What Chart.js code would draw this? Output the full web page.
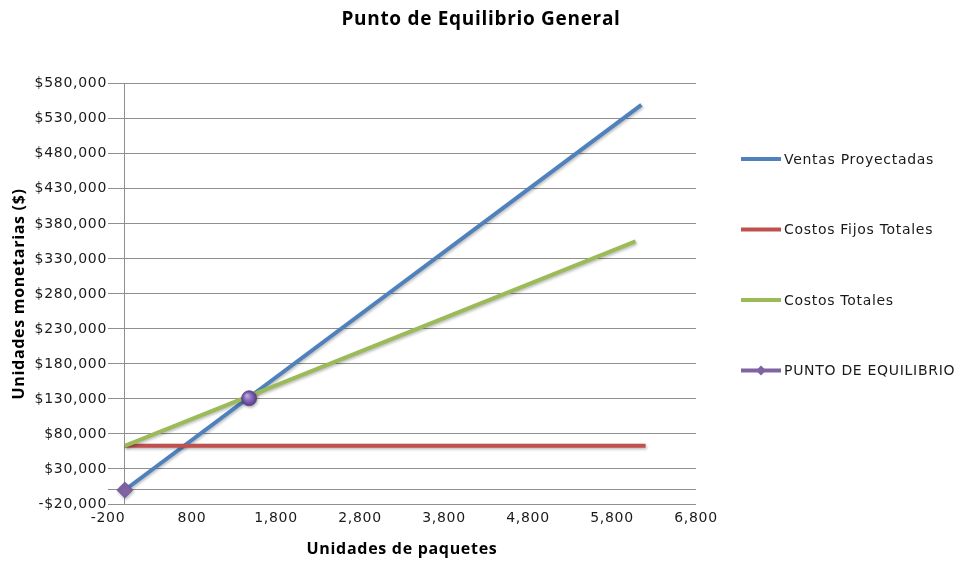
<!DOCTYPE html>
<html>
<head>
<meta charset="utf-8">
<script src="https://cdn.jsdelivr.net/npm/chart.js@4/dist/chart.umd.min.js"></script>
<style>
  html, body { margin: 0; padding: 0; background: #ffffff; }
  canvas { display: block; }
</style>
</head>
<body>
<canvas id="chart" width="962" height="565"></canvas>
<script>
// Break-even series (units on x, money on y)
const ventasX = [0, 6150];
const ventasY = [0, 550000];
const fijosX = [0, 6200];
const fijosY = [63000, 63000];
const totalesX = [0, 6080];
const totalesY = [63000, 355000];
const equilibrioX = [0, 1480];
const equilibrioY = [0, 131000];

const seriesNames = ['Ventas Proyectadas', 'Costos Fijos Totales', 'Costos Totales', 'PUNTO DE EQUILIBRIO'];

// Axis tick values
const xTickValues = [-200, 800, 1800, 2800, 3800, 4800, 5800, 6800];
const yTickValues = [-20000, 30000, 80000, 130000, 180000, 230000, 280000, 330000, 380000, 430000, 480000, 530000, 580000];
const axisCross = 0;

const toPoints = (xs, ys) => xs.map((x, i) => ({ x: x, y: ys[i] }));

const BLUE = '#4F81BD', RED = '#C0504D', GREEN = '#9BBB59', PURPLE = '#8064A2';
const GRID = '#8f8f8f';

function moneyLabel(v) {
  if (v === axisCross) return '';
  const s = '$' + Math.abs(v).toLocaleString('en-US');
  return v < 0 ? '-' + s : s;
}

// Shaded sphere fill for the break-even marker
function markerFill(ctx) {
  if (ctx.type !== 'data' || ctx.dataIndex === 0 || !ctx.parsed) return PURPLE;
  const c = ctx.chart.ctx;
  const sx = ctx.chart.scales.x, sy = ctx.chart.scales.y;
  if (!sx || !sy) return PURPLE;
  const px = sx.getPixelForValue(ctx.parsed.x);
  const py = sy.getPixelForValue(ctx.parsed.y);
  if (!isFinite(px) || !isFinite(py)) return PURPLE;
  const g = c.createRadialGradient(px - 2.5, py - 3, 0.5, px, py, 8);
  g.addColorStop(0, '#c3b0e6');
  g.addColorStop(0.45, '#8a6cbd');
  g.addColorStop(1, '#553a82');
  return g;
}

const textSpacing = {
  id: 'textSpacing',
  beforeDraw(chart) { chart.ctx.letterSpacing = '0.7px'; }
};

const lineShadow = {
  id: 'lineShadow',
  beforeDatasetsDraw(chart) {
    const c = chart.ctx;
    c.save();
    c.shadowColor = 'rgba(0,0,0,0.28)';
    c.shadowBlur = 3;
    c.shadowOffsetX = 1;
    c.shadowOffsetY = 1.5;
  },
  afterDatasetsDraw(chart) { chart.ctx.restore(); }
};

// Vertical legend on the right side
const sideLegend = {
  id: 'sideLegend',
  afterDraw(chart, args, opts) {
    const c = chart.ctx;
    c.save();
    c.font = opts.font;
    c.fillStyle = opts.color;
    c.textAlign = 'left';
    c.textBaseline = 'middle';
    chart.data.datasets.forEach((ds, i) => {
      const y = opts.top + i * opts.spacing;
      const x0 = opts.left, x1 = opts.left + opts.lineLength;
      c.strokeStyle = ds.legendColor;
      c.lineWidth = 4;
      c.beginPath();
      c.moveTo(x0, y);
      c.lineTo(x1, y);
      c.stroke();
      if (ds.legendDiamond) {
        const cx = (x0 + x1) / 2, r = 5;
        c.fillStyle = ds.legendColor;
        c.beginPath();
        c.moveTo(cx, y - r);
        c.lineTo(cx + r, y);
        c.lineTo(cx, y + r);
        c.lineTo(cx - r, y);
        c.closePath();
        c.fill();
        c.fillStyle = opts.color;
      }
      c.fillText(ds.label, x1 + 3, y + 1);
    });
    c.restore();
  }
};

new Chart(document.getElementById('chart'), {
  type: 'scatter',
  data: {
    datasets: [
      {
        label: seriesNames[0],
        data: toPoints(ventasX, ventasY),
        showLine: true,
        borderColor: BLUE,
        legendColor: BLUE,
        borderWidth: 4,
        pointRadius: 0,
        order: 4
      },
      {
        label: seriesNames[1],
        data: toPoints(fijosX, fijosY),
        showLine: true,
        borderColor: RED,
        legendColor: RED,
        borderWidth: 4,
        pointRadius: 0,
        order: 3
      },
      {
        label: seriesNames[2],
        data: toPoints(totalesX, totalesY),
        showLine: true,
        borderColor: GREEN,
        legendColor: GREEN,
        borderWidth: 4,
        pointRadius: 0,
        order: 2
      },
      {
        label: seriesNames[3],
        data: toPoints(equilibrioX, equilibrioY),
        showLine: false,
        borderColor: '#6a4f8e',
        legendColor: PURPLE,
        legendDiamond: true,
        backgroundColor: PURPLE,
        pointBackgroundColor: markerFill,
        pointBorderColor: ['#7459a0', '#5e4487'],
        pointBorderWidth: 0.8,
        pointStyle: ['rectRot', 'circle'],
        pointRadius: [8, 7.5],
        order: 1
      }
    ]
  },
  options: {
    responsive: false,
    devicePixelRatio: 1,
    animation: false,
    events: [],
    layout: { padding: 0 },
    plugins: {
      legend: { display: false },
      tooltip: { enabled: false },
      title: {
        display: true,
        text: 'Punto de Equilibrio General',
        color: '#000000',
        font: { family: 'Open Sans', size: 19, weight: 'bold' },
        padding: { top: 8, bottom: 53 }
      },
      sideLegend: {
        left: 741,
        lineLength: 40,
        top: 159,
        spacing: 70.5,
        font: '14px "DejaVu Sans"',
        color: '#1a1a1a'
      }
    },
    scales: {
      x: {
        type: 'linear',
        min: -200,
        max: 6800,
        afterBuildTicks(scale) {
          scale.ticks = [xTickValues[0], axisCross].concat(xTickValues.slice(1)).map(v => ({ value: v }));
        },
        afterFit(scale) { scale.height = 61; },
        grid: {
          drawTicks: false,
          color: ctx => (ctx.tick && ctx.tick.value === axisCross ? GRID : 'rgba(0,0,0,0)'),
          lineWidth: 1
        },
        border: { display: false },
        ticks: {
          padding: 6,
          color: '#1a1a1a',
          font: { family: 'DejaVu Sans', size: 14 },
          maxRotation: 0,
          autoSkip: false,
          callback: v => (v === axisCross ? '' : v.toLocaleString('en-US'))
        },
        title: {
          display: true,
          text: 'Unidades de paquetes',
          color: '#000000',
          font: { family: 'Open Sans', size: 16, weight: 'bold' },
          padding: { top: 0, bottom: 6 }
        }
      },
      y: {
        type: 'linear',
        min: -20000,
        max: 580000,
        afterBuildTicks(scale) {
          scale.ticks = [yTickValues[0], axisCross].concat(yTickValues.slice(1)).map(v => ({ value: v }));
        },
        afterFit(scale) { scale.width = 108; },
        grid: {
          drawTicks: false,
          color: GRID,
          lineWidth: 1
        },
        border: { display: false },
        ticks: {
          padding: 1,
          color: '#1a1a1a',
          font: { family: 'DejaVu Sans', size: 14 },
          autoSkip: false,
          callback: v => moneyLabel(v)
        },
        title: {
          display: true,
          text: 'Unidades monetarias ($)',
          color: '#000000',
          font: { family: 'Open Sans', size: 16, weight: 'bold' },
          padding: { top: 10, bottom: 0 }
        }
      },
      // empty right-hand band that holds the legend
      legendBand: {
        type: 'linear',
        position: 'right',
        display: true,
        min: -20000,
        max: 580000,
        afterFit(scale) { scale.width = 266; },
        grid: { display: false, drawTicks: false },
        border: { display: false },
        ticks: { display: false }
      }
    }
  },
  plugins: [textSpacing, lineShadow, sideLegend]
});
</script>
</body>
</html>
